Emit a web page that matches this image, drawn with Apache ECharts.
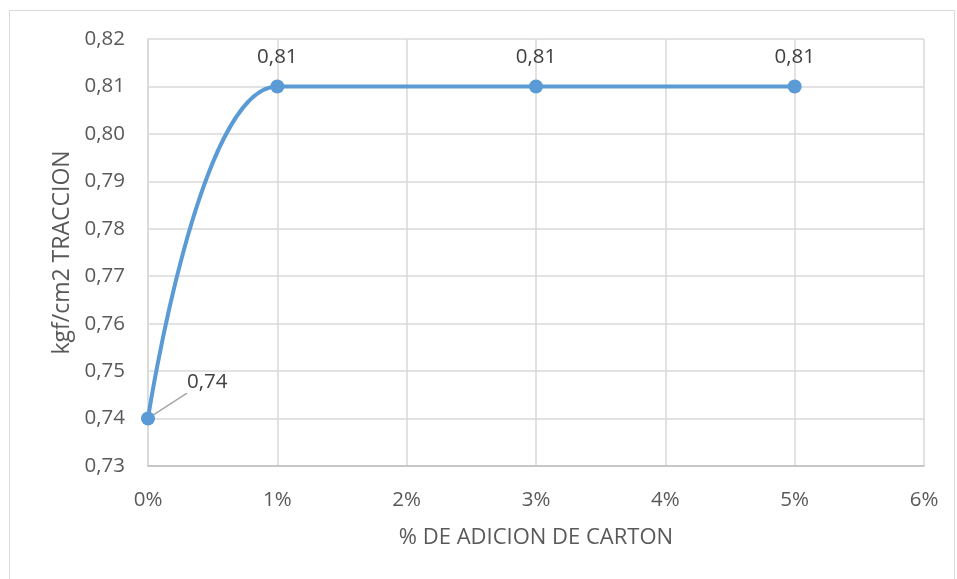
<!DOCTYPE html>
<html><head><meta charset="utf-8">
<script src="https://cdn.jsdelivr.net/npm/echarts@6/dist/echarts.min.js"></script>
<style>html,body{margin:0;padding:0;background:#fff}#c{width:957px;height:579px}</style>
</head><body><div id="c"></div>
<script>
const xValues = [0, 1, 3, 5];
const yValues = [0.74, 0.81, 0.81, 0.81];
const xTicks = ['0%','1%','2%','3%','4%','5%','6%'];
const xTitle = '% DE ADICION DE CARTON';
const yTitle = 'kgf/cm2 TRACCION';

const font = '"Open Sans", sans-serif';
const chart = echarts.init(document.getElementById('c'));
const data = xValues.map((x, i) => {
  const item = { value: [x, yValues[i]] };
  if (i === 0) {
    item.label = { position: 'right', offset: [20, -36] };
    item.labelLine = { show: true };
  }
  return item;
});
chart.setOption({
  animation: false,
  graphic: [{ type: 'rect', shape: { x: 9.5, y: 10.5, width: 945, height: 580 }, style: { fill: 'none', stroke: '#d9d9d9', lineWidth: 1 } }],
  grid: { left: 148, right: 33, top: 39, bottom: 113 },
  xAxis: {
    type: 'value', min: 0, max: 6, interval: 1,
    name: xTitle, nameLocation: 'middle', nameGap: 61,
    nameTextStyle: { fontFamily: font, fontSize: 22, color: '#595959' },
    axisLine: { show: true, lineStyle: { color: '#bfbfbf', width: 1.5 } },
    axisTick: { show: false },
    splitLine: { show: true, lineStyle: { color: '#d9d9d9', width: 1.5 } },
    axisLabel: { fontFamily: font, fontSize: 20.5, color: '#595959', margin: 24,
      formatter: v => xTicks[Math.round(v)] }
  },
  yAxis: {
    type: 'value', min: 0.73, max: 0.82, interval: 0.01,
    name: yTitle, nameLocation: 'middle', nameGap: 73,
    nameTextStyle: { fontFamily: font, fontSize: 23, color: '#595959' },
    axisLine: { show: true, lineStyle: { color: '#d9d9d9', width: 1.5 } },
    axisTick: { show: false },
    splitLine: { show: true, lineStyle: { color: '#d9d9d9', width: 1.5 } },
    axisLabel: { fontFamily: font, fontSize: 20.5, color: '#595959', margin: 23,
      formatter: v => v.toFixed(2).replace('.', ',') }
  },
  series: [{
    type: 'line', data: data, smooth: 0.35,
    symbol: 'circle', symbolSize: 14,
    itemStyle: { color: '#5b9bd5' },
    lineStyle: { color: '#5b9bd5', width: 4 },
    labelLine: { lineStyle: { color: '#a6a6a6', width: 1.5 } },
    label: { show: true, position: 'top', distance: 12, fontFamily: font, fontSize: 20.5, color: '#404040',
      formatter: p => p.value[1].toFixed(2).replace('.', ',') }
  }]
});
</script></body></html>
